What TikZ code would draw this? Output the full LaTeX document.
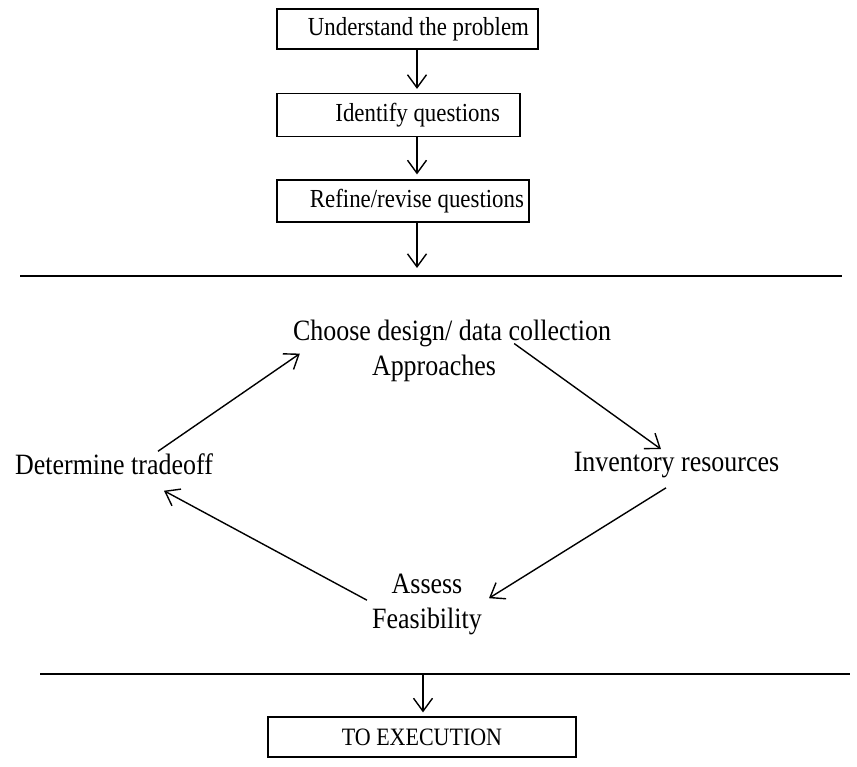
\documentclass[tikz,border=0pt]{standalone}
\usepackage{fontspec}
\setmainfont{Liberation Serif}[FakeStretch=0.88]
\usetikzlibrary{arrows.meta,calc}

% box text set flush right inside a box of width #1, leaving #2 of space on the right
\newcommand\steptext[3]{\makebox[#1][r]{#3\kern#2}}

\tikzset{
  stepbox/.style={draw, line width=1.2pt, inner sep=0pt,
    font=\fontsize{26}{30}\selectfont},
  label/.style={inner sep=0pt, align=center, font=\fontsize{29.5}{35}\selectfont},
  arr/.style={line width=1.4pt, -{Straight Barb[length=13pt,width=19pt,line width=1.4pt]}},
  divider/.style={line width=2.2pt},
}

\begin{document}
\begin{tikzpicture}[x=1pt,y=-1pt]
\useasboundingbox (0,0) rectangle (857,766);

% planning boxes
\node[stepbox, minimum height=40pt] (b1) at (407.5,29)
  {\steptext{261pt}{9pt}{Understand the problem}};
\node[stepbox, minimum height=43pt] (b2) at (398.5,115)
  {\steptext{243pt}{20pt}{Identify questions}};
\node[stepbox, minimum height=42pt] (b3) at (403,201)
  {\steptext{252pt}{5pt}{Refine/revise questions}};

% separators
\coordinate (l1w) at (20,276);
\coordinate (l1e) at (842,276);
\coordinate (l2w) at (40,674);
\coordinate (l2e) at (850,674);
\draw[divider] (l1w) -- (l1e);
\draw[divider] (l2w) -- (l2e);

\coordinate (c1) at (417,0);
\coordinate (l1) at (417,276);
\coordinate (l2) at (423,674);
\draw[arr, shorten >=4pt] (c1 |- b1.south) -- (c1 |- b2.north);
\draw[arr, shorten >=5pt] (c1 |- b2.south) -- (c1 |- b3.north);
\draw[arr, shorten >=8pt] (c1 |- b3.south) -- (l1);

% design cycle
\node[label] (choose) at (452,350.6) {Choose design/ data collection\\\hspace*{-36pt}Approaches};
\node[label] (inv) at (676.5,465.2) {Inventory resources};
\node[label] (assess) at (427,604.2) {Assess\\Feasibility};
\node[label] (det) at (114,464) {Determine tradeoff};

\draw[arr] ($(det.north)+(44,-2)$) -- ($(choose.west)+(7,3)$);
\draw[arr] ($(choose.north east)+(-97,24)$) -- ($(inv.north)+(-15.5,-3)$);
\draw[arr] ($(inv.south)+(-10.5,9.6)$) -- ($(assess.east)+(7,-6)$);
\draw[arr] ($(assess.west)+(-5,-4)$) -- ($(det.south)+(50,16)$);

% hand-off
\node[draw, line width=1.2pt, minimum width=308pt, minimum height=40pt, inner sep=0pt,
  font=\fontsize{25}{29}\selectfont] (exec) at (422,737) {TO EXECUTION};
\draw[arr, shorten >=4pt] (l2) -- (l2 |- exec.north);

\end{tikzpicture}
\end{document}
